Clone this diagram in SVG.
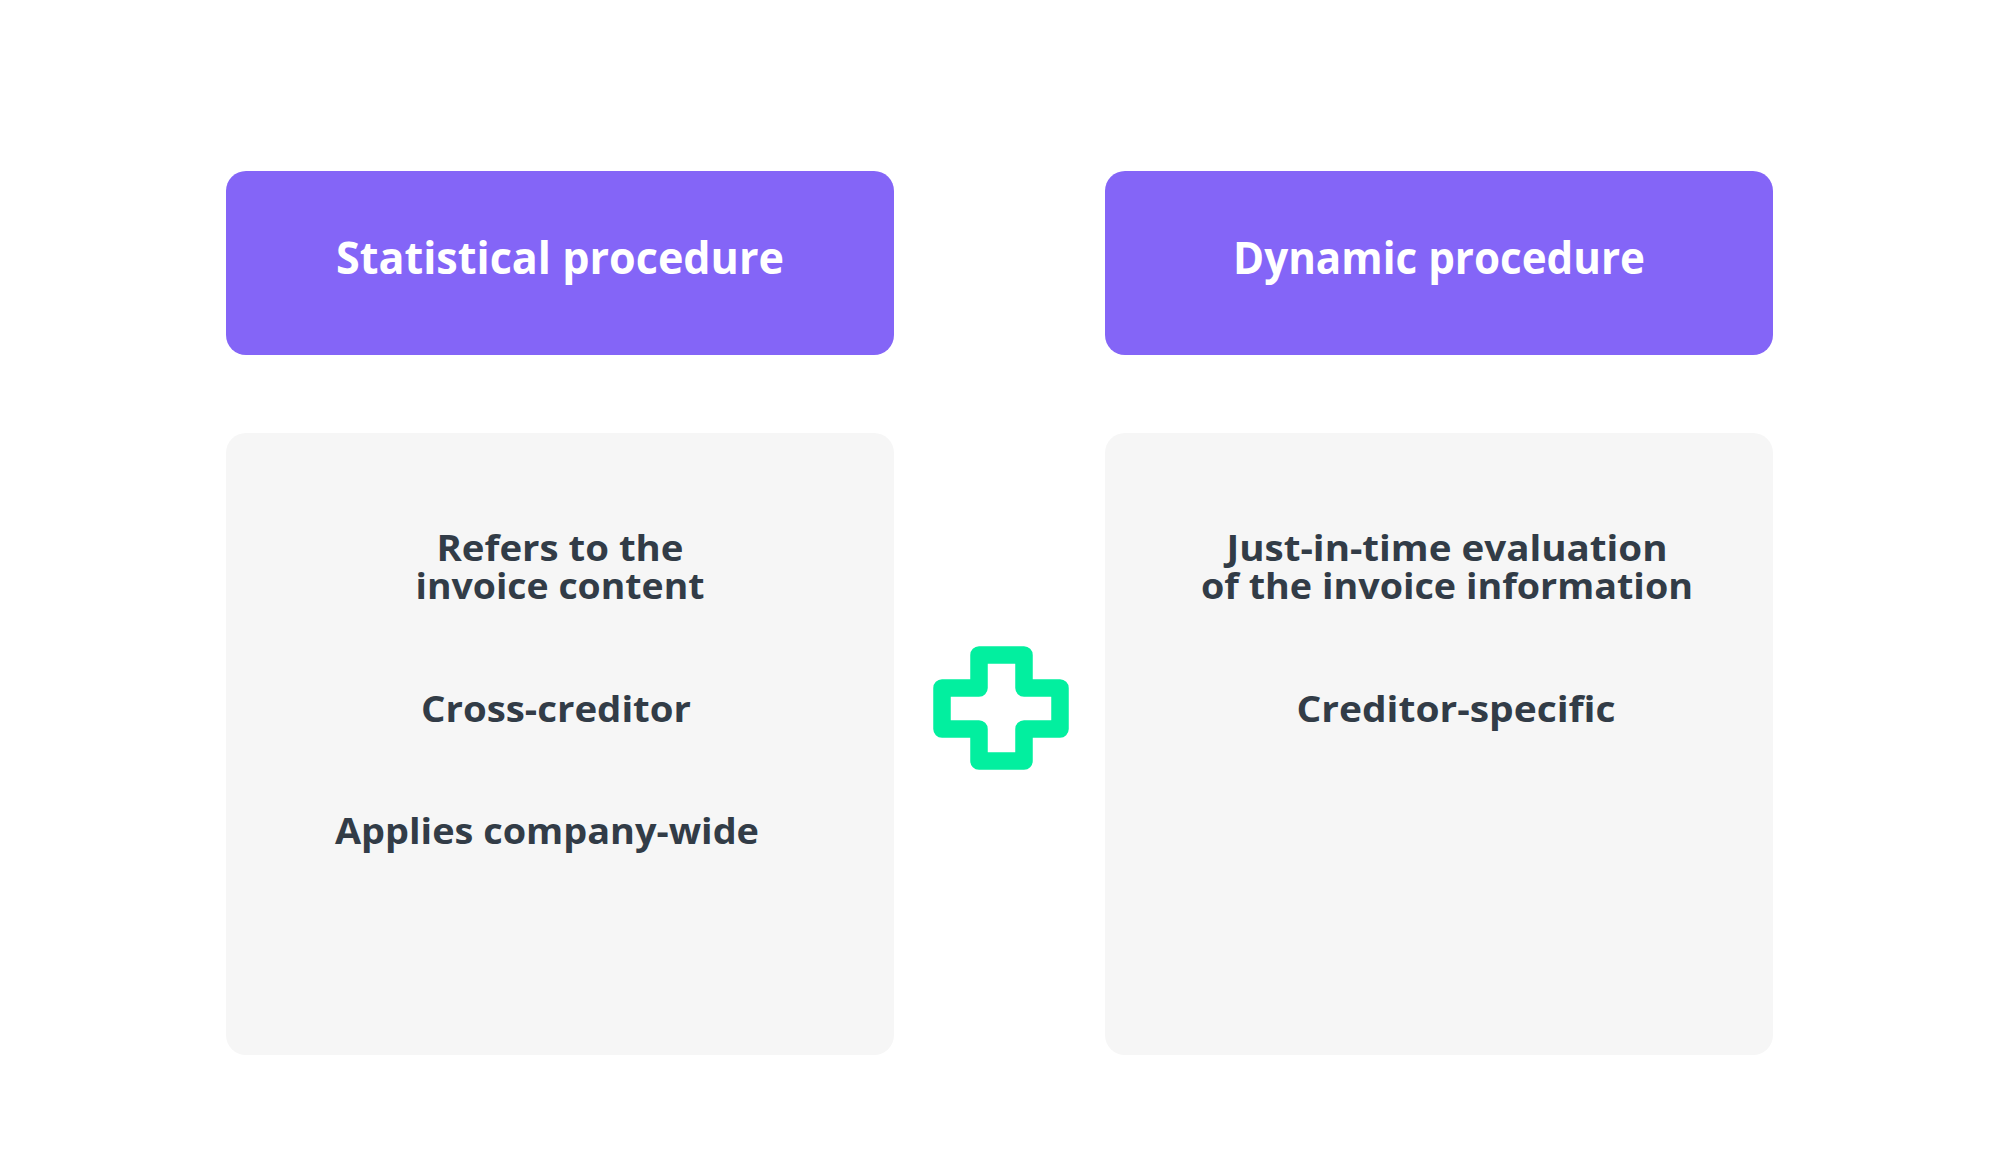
<svg xmlns="http://www.w3.org/2000/svg" width="2000" height="1158" viewBox="0 0 2000 1158">
<style>
.hdr{fill:#8465f7}
.body{fill:#f6f6f6}
.ht{font-family:"Open Sans",Lato,sans-serif;font-weight:700;font-size:44px;fill:#ffffff;text-anchor:middle}
.bt{font-family:"Open Sans",Lato,sans-serif;font-weight:700;font-size:35px;fill:#323c47;text-anchor:middle}
.plus{fill:none;stroke:#02ef9f;stroke-width:17.5;stroke-linejoin:round}
</style>
<rect width="2000" height="1158" fill="#ffffff"/>
<g id="header-static">
<rect class="hdr" x="226" y="171" width="668" height="184" rx="20"/>
<text class="ht" x="560" y="274" textLength="448" lengthAdjust="spacingAndGlyphs">Statistical procedure</text>
</g>
<g id="header-dynamic">
<rect class="hdr" x="1105" y="171" width="668" height="184" rx="20"/>
<text class="ht" x="1439" y="274" textLength="412" lengthAdjust="spacingAndGlyphs">Dynamic procedure</text>
</g>
<g id="body-static">
<rect class="body" x="226" y="433" width="668" height="622" rx="20"/>
<text class="bt"><tspan x="560" y="561" textLength="247" lengthAdjust="spacingAndGlyphs">Refers to the</tspan><tspan x="560" y="599" textLength="289" lengthAdjust="spacingAndGlyphs">invoice content</tspan></text>
<text class="bt" x="556" y="722" textLength="270" lengthAdjust="spacingAndGlyphs">Cross-creditor</text>
<text class="bt" x="547" y="844" textLength="424" lengthAdjust="spacingAndGlyphs">Applies company-wide</text>
</g>
<g id="body-dynamic">
<rect class="body" x="1105" y="433" width="668" height="622" rx="20"/>
<text class="bt"><tspan x="1447" y="561" textLength="441" lengthAdjust="spacingAndGlyphs">Just-in-time evaluation</tspan><tspan x="1447" y="599" textLength="492" lengthAdjust="spacingAndGlyphs">of the invoice information</tspan></text>
<text class="bt" x="1456" y="722" textLength="319" lengthAdjust="spacingAndGlyphs">Creditor-specific</text>
</g>
<g id="plus">
<path class="plus" d="M979,655 H1024 V688 H1060 V729 H1024 V761 H979 V729 H942 V688 H979 Z"/>
</g>
<g id="connectors"></g>
</svg>
